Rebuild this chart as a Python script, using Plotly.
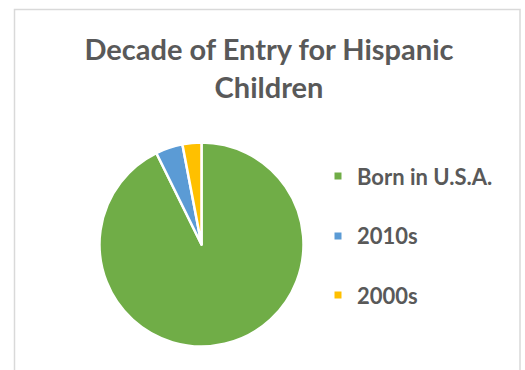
import plotly.graph_objects as go

labels = ["Born in U.S.A.", "2010s", "2000s"]
values = [92.7, 4.3, 3.0]
colors = ["#70AD47", "#5B9BD5", "#FFC000"]
title_text = "Decade of Entry for Hispanic<br>Children"

W, H = 525, 370
cx, cy, r = 201.5, 244.5, 102

fig = go.Figure()
fig.add_trace(go.Pie(
    labels=labels, values=values, sort=False, direction="clockwise", rotation=0,
    marker=dict(colors=colors, line=dict(color="white", width=2.5)),
    textinfo="none", showlegend=False, hoverinfo="label+percent",
    domain=dict(x=[(cx - r) / W, (cx + r) / W], y=[(H - cy - r) / H, (H - cy + r) / H]),
))

# legend drawn manually
leg_x = 338
leg_ys = [176, 236, 295]
for lab, col, ly in zip(labels, colors, leg_ys):
    fig.add_shape(type="rect", xref="paper", yref="paper",
                  x0=(leg_x - 3.5) / W, x1=(leg_x + 3.5) / W,
                  y0=(H - ly - 3.5) / H, y1=(H - ly + 3.5) / H,
                  fillcolor=col, line=dict(width=0))
    fig.add_annotation(xref="paper", yref="paper", x=355 / W, y=(H - ly) / H,
                       xanchor="left", yanchor="middle", showarrow=False,
                       text="<b>" + lab + "</b>",
                       font=dict(family="Lato", size=22, color="#595959"))

# chart frame
fig.add_shape(type="rect", xref="paper", yref="paper",
              x0=14.5 / W, x1=520 / W, y0=-0.2, y1=(H - 9.5) / H,
              line=dict(color="#d9d9d9", width=1.5), fillcolor="rgba(0,0,0,0)")

fig.update_layout(
    width=W, height=H, margin=dict(l=0, r=0, t=0, b=0),
    paper_bgcolor="white", plot_bgcolor="white",
    title=dict(text="<b>" + title_text + "</b>", x=269 / W, xanchor="center",
               yref="container", y=1 - 60 / H, yanchor="top",
               font=dict(family="Lato", size=29, color="#595959")),
)

fig.write_html("out.html")
